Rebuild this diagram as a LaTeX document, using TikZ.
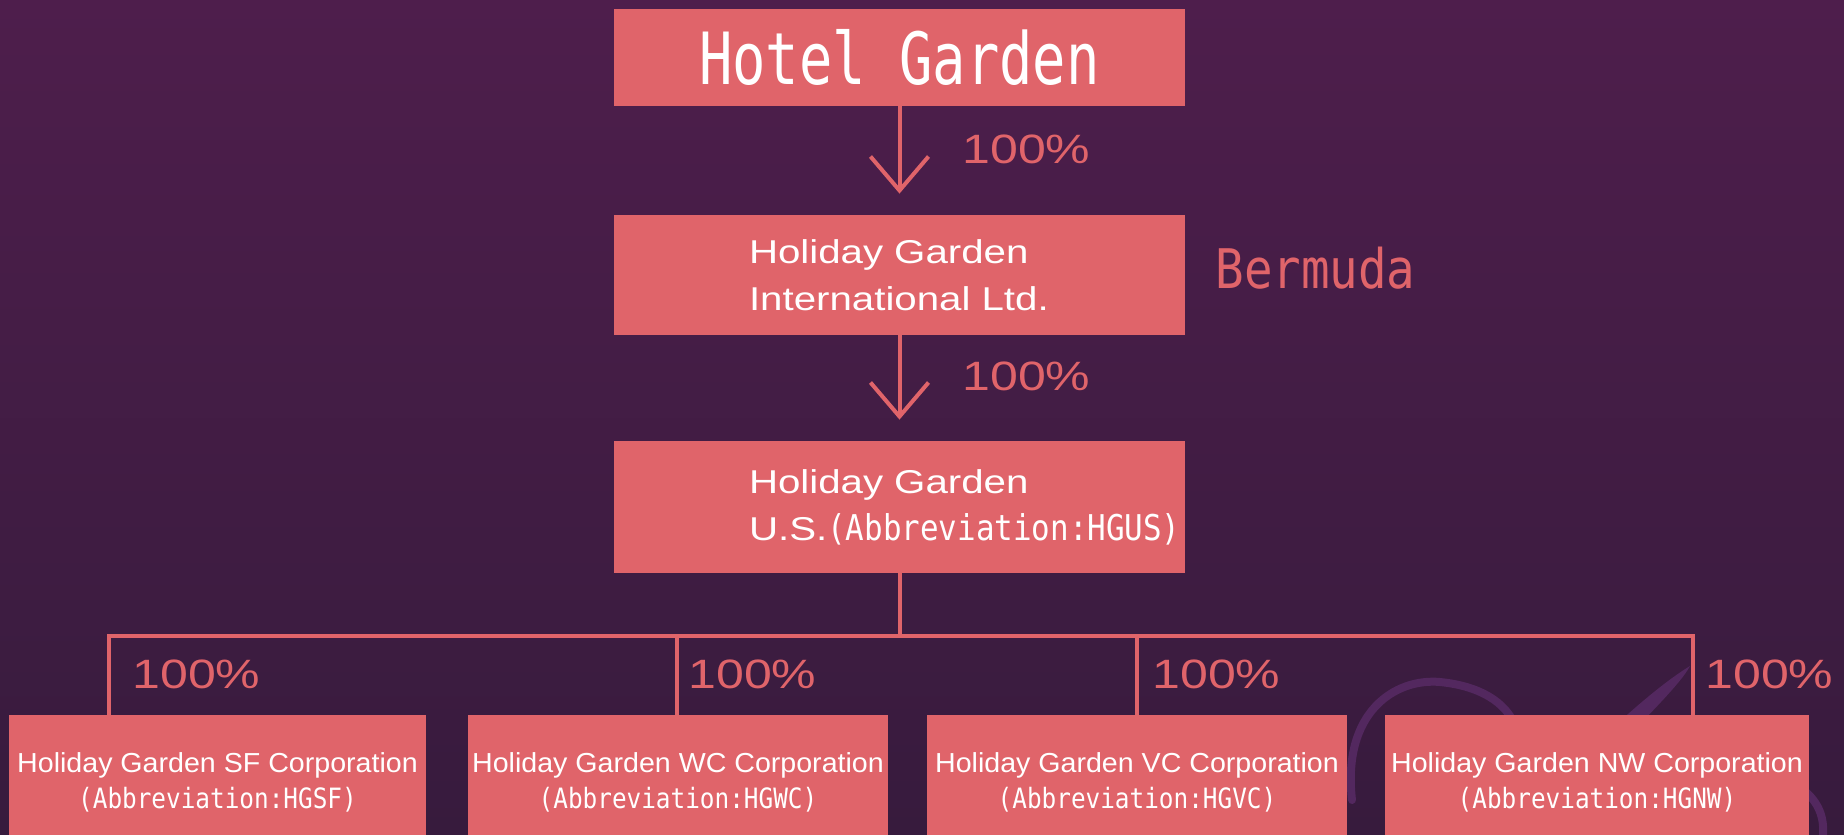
\documentclass[tikz,border=0pt]{standalone}
\usepackage{fontspec}
\setmainfont{Liberation Sans}
\newfontfamily\headfont[FakeStretch=0.77]{DejaVu Sans Mono}
\newfontfamily\abbrfont[FakeStretch=0.87]{DejaVu Sans Mono}
\newfontfamily\widesans[FakeStretch=1.22]{Liberation Sans}
\newfontfamily\corpsans[FakeStretch=1.04]{Liberation Sans}
\usetikzlibrary{arrows.meta}
\definecolor{coral}{HTML}{E0646A}
\definecolor{bgtop}{HTML}{4E1E4C}
\definecolor{bgbot}{HTML}{371B3D}
\definecolor{flourish}{HTML}{53285F}

\begin{document}
\begin{tikzpicture}[x=0.5pt, y=-0.5pt,
		box/.style={fill=coral, text=white, minimum width=285.5pt, inner sep=0pt},
		midbox/.style={box, text width=150.5pt, inner xsep=67.5pt, align=left,
			font=\widesans\fontsize{16.5}{23.5}\selectfont},
		corp/.style={fill=coral, text=white, minimum height=67.5pt, inner sep=0pt, align=center,
			font=\corpsans\fontsize{13.75}{18}\selectfont},
		pct/.style={text=coral, anchor=west, inner sep=0pt, font=\widesans\fontsize{20.5}{24}\selectfont},
		link/.style={draw=coral, line width=2pt},
		down/.style={link, -{Straight Barb[length=17pt, width=29pt]}, shorten >=10.5pt},
		wm/.style={draw=flourish, line width=4pt, line cap=round}]
	\useasboundingbox (0,0) rectangle (1844,835);
	\shade[top color=bgtop, bottom color=bgbot] (0,0) rectangle (1844,835);
	\clip (0,0) rectangle (1844,835);

	% faint script flourish behind the last boxes
	\draw[wm] (1352,800) .. controls (1342,712) and (1395,678) .. (1440,682) .. controls (1480,686) and (1505,702) .. (1515,725);
	\fill[flourish] (1605,735) .. controls (1637,705) and (1667,680) .. (1690,666) .. controls (1681,683) and (1651,712) .. (1627,738) -- cycle;
	\draw[wm] (1806,792) .. controls (1820,805) and (1826,820) .. (1822,845);

	% top of the chain
	\node[box, minimum height=48.5pt, font=\headfont\fontsize{36}{40}\selectfont] (hg)at(899.5, 57.5) {Hotel Garden};
	\node[midbox, minimum height=60pt] (hgi)at(899.5, 275) {Holiday Garden\\International Ltd.};
	\node[midbox, minimum height=66pt] (hgus)at(899.5, 507) {Holiday Garden\\U.S.{\abbrfont\fontsize{17.75}{23.5}\selectfont(Abbreviation:HGUS)}};
	\node[text=coral, anchor=west, inner sep=0pt, font=\abbrfont\fontsize{27.3}{30}\selectfont] (bm)at(1215, 268) {Bermuda};

	\draw[down] (hg) -- (hgi);
	\draw[down] (hgi) -- (hgus);
	\node[pct] (p1)at(962, 149) {100\%};
	\node[pct] (p2)at(962, 376) {100\%};

	% subsidiaries
	\node[corp, minimum width=208.5pt] (sf)at(217.5, 782.5) {Holiday Garden SF Corporation\\{\abbrfont\fontsize{14}{18}\selectfont(Abbreviation:HGSF)}};
	\node[corp, minimum width=210pt] (wc)at(678, 782.5) {Holiday Garden WC Corporation\\{\abbrfont\fontsize{14}{18}\selectfont(Abbreviation:HGWC)}};
	\node[corp, minimum width=210pt] (vc)at(1137, 782.5) {Holiday Garden VC Corporation\\{\abbrfont\fontsize{14}{18}\selectfont(Abbreviation:HGVC)}};
	\node[corp, minimum width=212pt] (nw)at(1597, 782.5) {Holiday Garden NW Corporation\\{\abbrfont\fontsize{14}{18}\selectfont(Abbreviation:HGNW)}};

	\coordinate (fork) at (899.5, 636);
	\coordinate (d1) at (109, 636);
	\coordinate (d2) at (677, 636);
	\coordinate (d3) at (1137, 636);
	\coordinate (d4) at (1693, 636);
	\draw[link] (hgus) -- (fork);
	\draw[link] (d1 |- sf.north) -- (d1) -- (d4) -- (d4 |- nw.north);
	\draw[link] (d2) -- (d2 |- wc.north);
	\draw[link] (d3) -- (d3 |- vc.north);

	\node[pct] (p3)at(132, 674) {100\%};
	\node[pct] (p4)at(688, 674) {100\%};
	\node[pct] (p5)at(1152, 674) {100\%};
	\node[pct] (p6)at(1705, 674) {100\%};
\end{tikzpicture}
\end{document}
